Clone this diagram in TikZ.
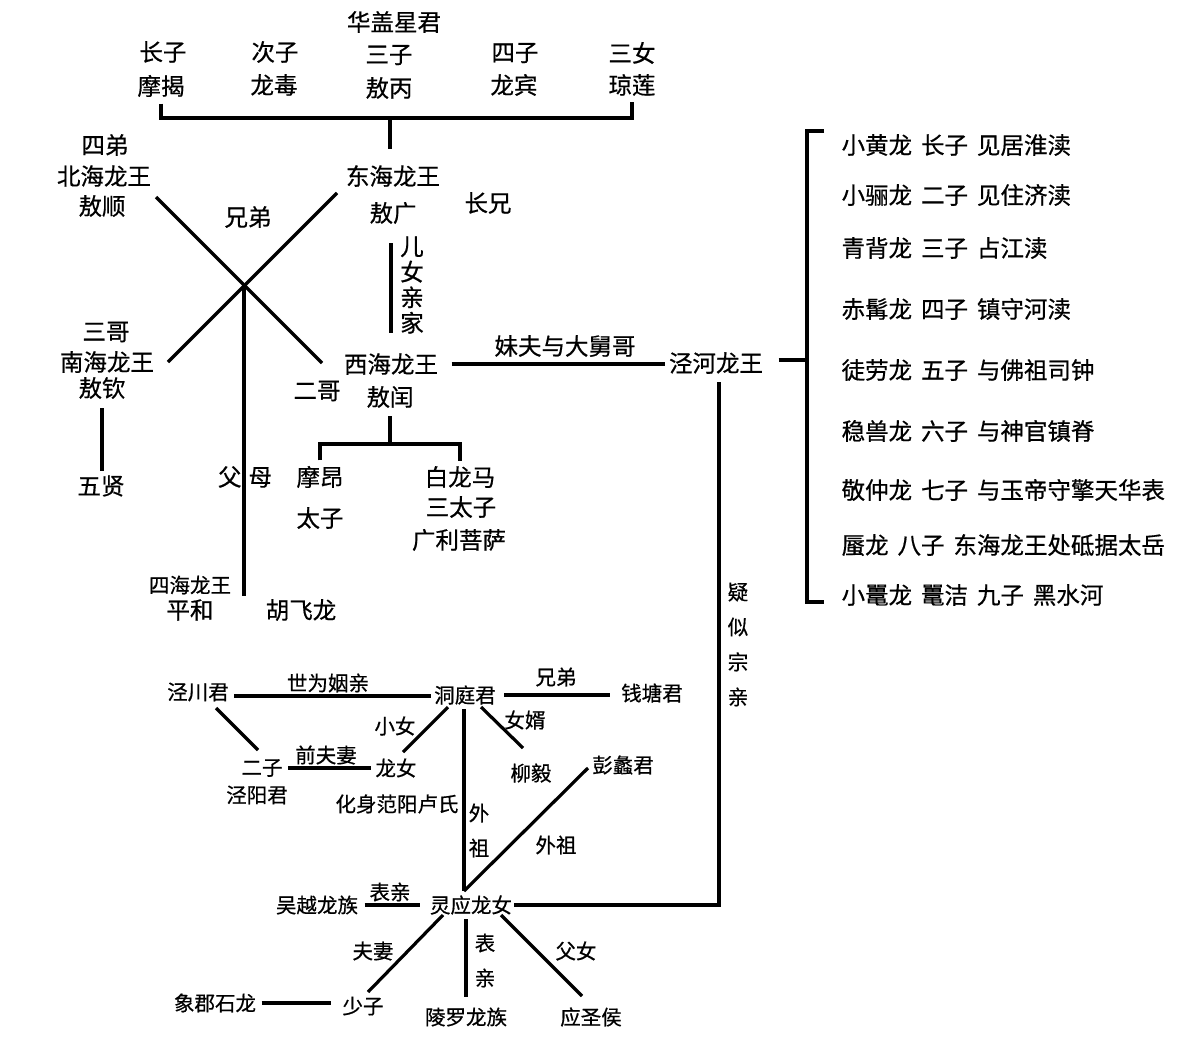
\documentclass[tikz,border=0pt]{standalone}
\usepackage{fontspec}
\setmainfont{Noto Sans CJK SC}[FakeBold=0.6]
\newcommand{\jg}{\hspace{0.38em}}
\begin{document}
\begin{tikzpicture}[x=1pt, y=-1pt, line width=3.2pt, inner sep=0pt,
  bigtxt/.style={font=\fontsize{23.5}{25.5}\selectfont},
  smalltxt/.style={font=\fontsize{20.5}{35}\selectfont}]
  \fill[white] (0,0) rectangle (1177,1049);
  \foreach \nm/\xx/\yy/\tx in {huagai/394/22/华盖星君, zhangzi/163/52/长子, mojie/161/86/摩揭,
      cizi/275/52/次子, longdu/274/85/龙毒, sanzi/389/55/三子, aobing/389/88/敖丙,
      sizi/515/53/四子, longbin/514/85/龙宾, sannv/632/53/三女, qionglian/632/85/琼莲,
      sidi/105/145/四弟, beihai/104/176/北海龙王, aoshun/102/206/敖顺,
      donghai/393/176/东海龙王, aoguang/393/213/敖广, zhangxiong/488/203/长兄,
      xiongdi/248/217/兄弟, sange/106/332/三哥, nanhai/107/362/南海龙王, aoqin/102/388/敖钦,
      wuxian/101/486/五贤, erge/317/391/二哥, xihai/391/364/西海龙王, aorun/390/397/敖闰,
      meifu/565/346/妹夫与大舅哥, jinghe/716/363/泾河龙王, moang/320/477/摩昂,
      taizi/320/518/太子, bailongma/460/477/白龙马, santaizi/461/507/三太子,
      guangli/459/540/广利菩萨, fumu/245/477/{父\hspace{7pt}母}, pinghe/190/610/平和,
      hufeilong/301/610/胡飞龙} {
    \node[bigtxt] (\nm) at (\xx,\yy) {\tx};
  }
  \node[bigtxt, align=center] (ernv) at (412,285) {儿\\女\\亲\\家};
  \foreach \nm/\yy/\tx in {son1/145/{小黄龙\jg 长子\jg 见居淮渎}, son2/195/{小骊龙\jg 二子\jg 见住济渎},
      son3/248/{青背龙\jg 三子\jg 占江渎}, son4/309/{赤髯龙\jg 四子\jg 镇守河渎},
      son5/370/{徒劳龙\jg 五子\jg 与佛祖司钟}, son6/431/{稳兽龙\jg 六子\jg 与神官镇脊},
      son7/490/{敬仲龙\jg 七子\jg 与玉帝守擎天华表}, son8/545/{蜃龙\jg 八子\jg 东海龙王处砥据太岳},
      son9/595/{小鼍龙\jg 鼍洁\jg 九子\jg 黑水河}} {
    \node[bigtxt, anchor=west] (\nm) at (840,\yy) {\tx};
  }
  \foreach \nm/\xx/\yy/\tx in {sihai/190/585/四海龙王, jingchuan/198/692/泾川君,
      shiwei/328/683/世为姻亲, dongting/465/695/洞庭君, xiongdib/556/677/兄弟,
      qiantang/652/693/钱塘君, xiaonv/395/726/小女, nvxu/525/720/女婿, erzi/262/768/二子,
      jingyang/257/795/泾阳君, qianfuqi/326/755/前夫妻, longnv/396/768/龙女,
      huashen/397/804/化身范阳卢氏, liuyi/531/773/柳毅, pengli/623/765/彭蠡君,
      waizu/556/845/外祖, wuyue/317/905/吴越龙族, biaoqin/390/892/表亲,
      lingying/471/905/灵应龙女, fuqi/373/951/夫妻, shaozi/363/1006/少子,
      xiangjun/215/1003/象郡石龙, linluo/466/1017/陵罗龙族, funv/576/951/父女,
      yingsheng/591/1017/应圣侯} {
    \node[smalltxt] (\nm) at (\xx,\yy) {\tx};
  }
  \node[smalltxt, align=center] (yisi) at (738,644.5) {疑\\似\\宗\\亲};
  \node[smalltxt, align=center] (waizuv) at (479,830.5) {外\\祖};
  \node[smalltxt, align=center] (biaoqinv) at (485,960.5) {表\\亲};

  \foreach \nm/\xx/\yy in {bar1/390/118, cross/244/285, nw/156/197, se/322/363, ne/337/193,
      sw/168/362, fm/244/596, brt/824/131, brm/807/360, brb/824/602, jc/719/905, bar2/390/444,
      j1/216/708, j2/258/750, d1/448/707, d2/403/752, d3/481/707, d4/523/748,
      p1/588/768, p2/464/891, l1/443/915, l2/368/992, l3/501/915, l4/582/996} {
    \coordinate (\nm) at (\xx,\yy);
  }

  \draw[shorten <=5pt, shorten >=5pt] (mojie.south) |- (bar1) -| (qionglian.south);
  \draw[shorten >=15pt] (bar1) -- (bar1 |- donghai.north);
  \draw (nw) -- (se);
  \draw (ne) -- (sw);
  \draw (cross) -- (fm);
  \draw[shorten <=8pt, shorten >=3pt] (aoqin.south) -- (aoqin.south |- wuxian.north);
  \draw[shorten <=19pt, shorten >=17pt] (xihai.north) -- (xihai.north |- aoguang.south);
  \draw[shorten <=12pt, shorten >=2pt] (xihai.east) -- (xihai.east -| jinghe.west);
  \draw[shorten <=14pt] (brm -| jinghe.east) -- (brm);
  \draw (brt) -| (brm) |- (brb);
  \draw[shorten <=7pt] (jc |- jinghe.south) -- (jc) -- (lingying.east);
  \draw[shorten <=7pt] (aorun.south) -- (bar2);
  \draw[shorten <=4pt, shorten >=4pt] (moang.north) |- (bar2) -| (bailongma.north);

  \draw[shorten <=4pt, shorten >=2pt] ([yshift=-4pt]jingchuan.east) -- ([yshift=-4pt]jingchuan.east -| dongting.west);
  \draw[shorten <=7pt, shorten >=10pt] (dongting.east) -- (dongting.east -| qiantang.west);
  \draw[shorten <=3pt] (dongting.south -| p2) -- (p2);
  \draw (p1) -- (p2);
  \draw (j1) -- (j2);
  \draw (d1) -- (d2);
  \draw (d3) -- (d4);
  \draw (l1) -- (l2);
  \draw (l3) -- (l4);
  \draw[shorten <=4pt, shorten >=3pt] (erzi.east) -- (erzi.east -| longnv.west);
  \draw[shorten <=5pt, shorten >=8pt] (wuyue.east) -- (wuyue.east -| lingying.west);
  \draw[shorten <=3pt, shorten >=9pt] (linluo.north |- lingying.south) -- (linluo.north);
  \draw[shorten <=4pt, shorten >=10pt] (xiangjun.east) -- (xiangjun.east -| shaozi.west);
\end{tikzpicture}
\end{document}
